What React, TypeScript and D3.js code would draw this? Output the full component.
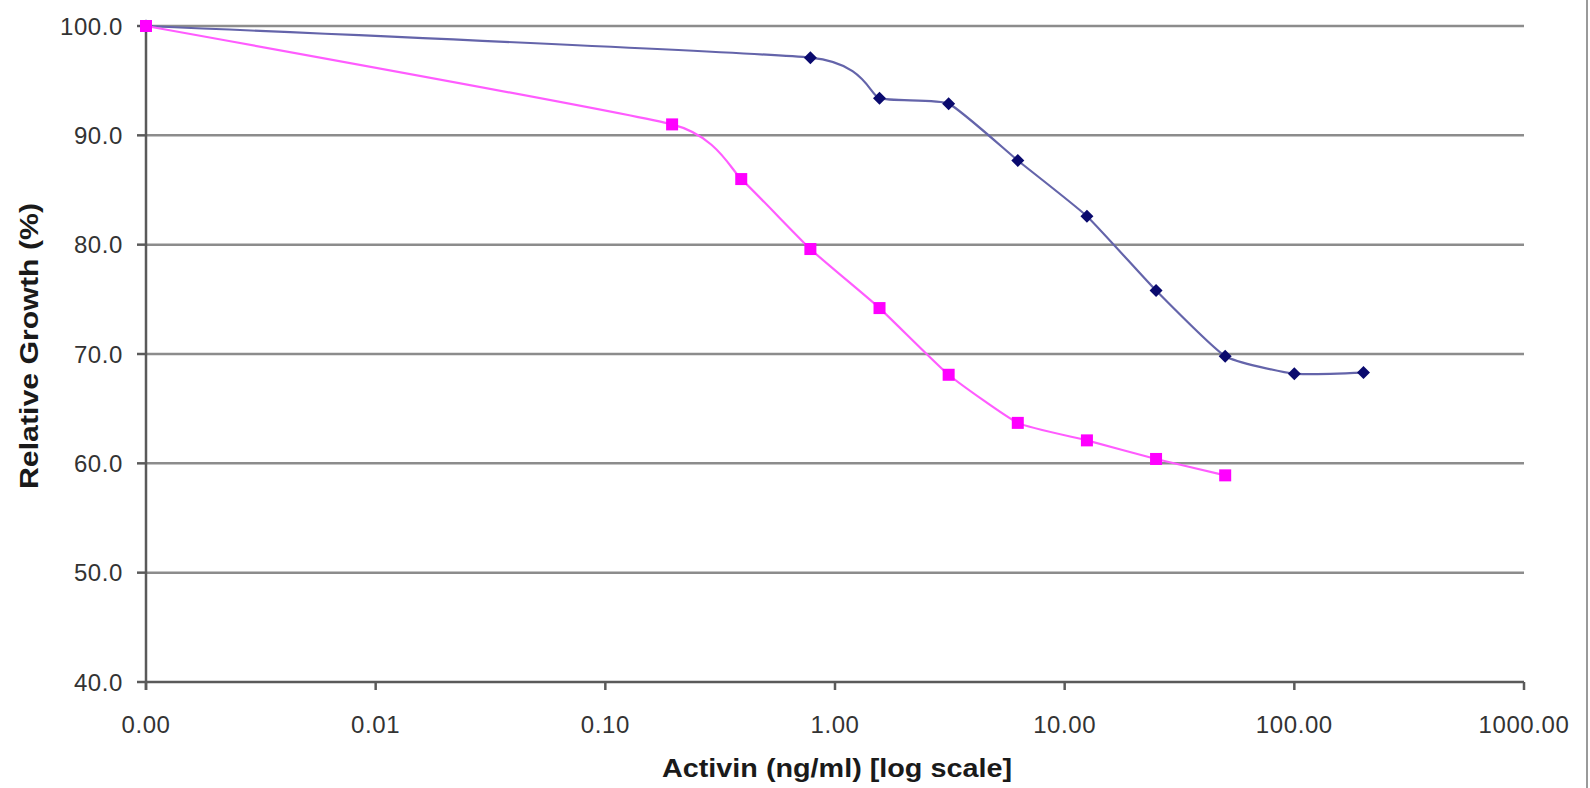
import React from "react";
import * as d3 from "d3";

const xTickValues = [0.001, 0.01, 0.1, 1, 10, 100, 1000];
const xTickLabels = ["0.00", "0.01", "0.10", "1.00", "10.00", "100.00", "1000.00"];
const yTickValues = [40, 50, 60, 70, 80, 90, 100];
const yTickLabels = ["40.0", "50.0", "60.0", "70.0", "80.0", "90.0", "100.0"];

// zero concentration plotted at 0.001 (shown as "0.00")
const blueDose = [0.001, 0.78125, 1.5625, 3.125, 6.25, 12.5, 25, 50, 100, 200];
const blueGrowth = [100, 97.1, 93.4, 92.9, 87.7, 82.6, 75.8, 69.8, 68.2, 68.3];

const pinkDose = [0.001, 0.1953125, 0.390625, 0.78125, 1.5625, 3.125, 6.25, 12.5, 25, 50];
const pinkGrowth = [100, 91.0, 86.0, 79.6, 74.2, 68.1, 63.7, 62.1, 60.4, 58.9];

const W = 1590;
const H = 788;
const left = 146;
const right = 1524;
const top = 26;
const bottom = 682;

export default function App() {
  const x = d3.scaleLog().domain([0.001, 1000]).range([left, right]);
  const y = d3.scaleLinear().domain([40, 100]).range([bottom, top]);

  const line = d3
    .line<[number, number]>()
    .x((d) => x(d[0]))
    .y((d) => y(d[1]))
    .curve(d3.curveCardinal.tension(0.55));

  const blue: [number, number][] = blueDose.map((d, i) => [d, blueGrowth[i]]);
  const pink: [number, number][] = pinkDose.map((d, i) => [d, pinkGrowth[i]]);

  const font = "'Liberation Sans', Arial, sans-serif";

  return (
    <svg
      width={W}
      height={H}
      style={{ position: "absolute", left: 0, top: 0, display: "block", background: "#fff" }}
    >
      <rect x={0} y={0} width={W} height={H} fill="#fff" />
      <line x1={1587} x2={1587} y1={0} y2={H} stroke="#9a9a9a" strokeWidth={2} />
      {/* gridlines */}
      {yTickValues.filter((v) => v > 40).map((v) => (
        <line key={"g" + v} x1={left} x2={right} y1={y(v)} y2={y(v)} stroke="#8c8c8c" strokeWidth={2.5} />
      ))}
      {/* y axis */}
      <line x1={left} x2={left} y1={top} y2={bottom + 8} stroke="#5a5a5a" strokeWidth={2.5} />
      {yTickValues.map((v, i) => (
        <g key={"y" + v}>
          <line x1={left - 9} x2={left} y1={y(v)} y2={y(v)} stroke="#5a5a5a" strokeWidth={2.5} />
          <text
            x={123}
            y={y(v) + 8.5}
            textAnchor="end"
            fontFamily={font}
            fontSize={24}
            letterSpacing={0.6}
            fill="#333"
          >
            {yTickLabels[i]}
          </text>
        </g>
      ))}
      {/* x axis */}
      <line x1={left} x2={right} y1={bottom} y2={bottom} stroke="#5a5a5a" strokeWidth={2.5} />
      {xTickValues.map((v, i) => (
        <g key={"x" + v}>
          <line x1={x(v)} x2={x(v)} y1={bottom} y2={bottom + 8} stroke="#5a5a5a" strokeWidth={2.5} />
          <text
            x={x(v)}
            y={733}
            textAnchor="middle"
            fontFamily={font}
            fontSize={24}
            letterSpacing={0.6}
            fill="#333"
          >
            {xTickLabels[i]}
          </text>
        </g>
      ))}
      {/* axis titles */}
      <text
        x={837}
        y={777}
        textAnchor="middle"
        fontFamily={font}
        fontWeight="bold"
        fontSize={26}
        textLength={350}
        lengthAdjust="spacingAndGlyphs"
        fill="#1a1a1a"
      >
        Activin (ng/ml) [log scale]
      </text>
      <text
        transform="translate(38,346) rotate(-90)"
        textAnchor="middle"
        fontFamily={font}
        fontWeight="bold"
        fontSize={26}
        textLength={286}
        lengthAdjust="spacingAndGlyphs"
        fill="#1a1a1a"
      >
        Relative Growth (%)
      </text>
      {/* blue series */}
      <path d={line(blue) || ""} fill="none" stroke="#6464aa" strokeWidth={2.2} />
      {blue.map((d, i) => {
        const cx = x(d[0]);
        const cy = y(d[1]);
        const r = 6.5;
        return (
          <path
            key={"b" + i}
            d={`M${cx},${cy - r}L${cx + r},${cy}L${cx},${cy + r}L${cx - r},${cy}Z`}
            fill="#0a0a6e"
          />
        );
      })}
      {/* pink series */}
      <path d={line(pink) || ""} fill="none" stroke="#ff5cff" strokeWidth={2.2} />
      {pink.map((d, i) => (
        <rect key={"p" + i} x={x(d[0]) - 6} y={y(d[1]) - 6} width={12} height={12} fill="#ff00ff" />
      ))}
    </svg>
  );
}
